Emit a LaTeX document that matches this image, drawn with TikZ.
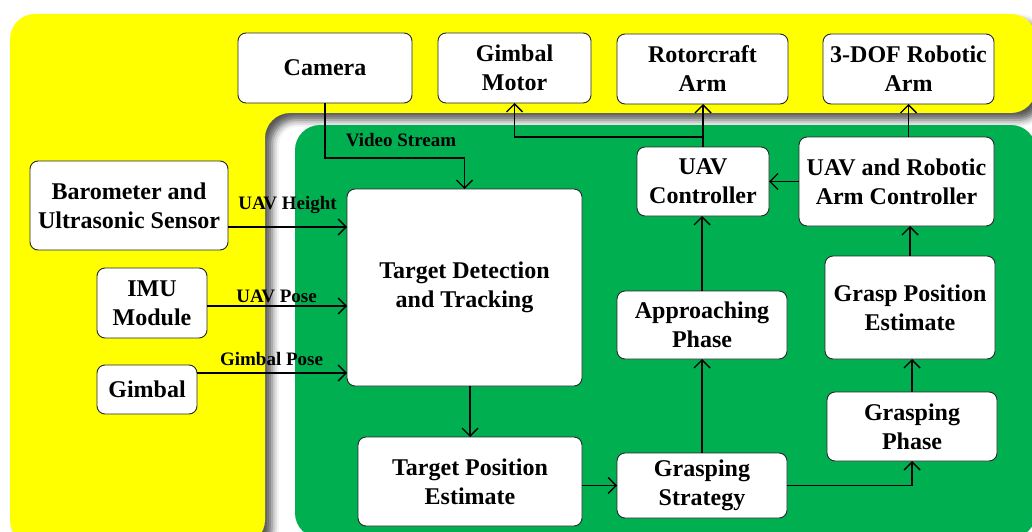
\documentclass[tikz,border=0pt]{standalone}
\usepackage{fontspec}
\setmainfont{Liberation Serif}[BoldFont={Liberation Serif Bold}]
\newfontfamily\tnrbold{Liberation Serif Bold}
\usetikzlibrary{arrows.meta,calc,shadows.blur}
\definecolor{bandyellow}{HTML}{FFFF00}
\definecolor{coregreen}{HTML}{00B050}

\begin{document}
\begin{tikzpicture}[x=1pt,y=-1pt,
  box/.style={draw=black!85, line width=0.9pt, fill=white, rounded corners=8pt,
    align=center, inner sep=0pt, outer sep=0pt,
    font=\tnrbold\fontsize{24}{29}\selectfont},
  lab/.style={font=\tnrbold\fontsize{19}{22}\selectfont, inner sep=0pt},
  arr/.style={line width=1.4pt, -{Straight Barb[length=8pt,width=16pt,line width=1.4pt]}}]
\useasboundingbox (0,0) rectangle (1032,532);
\clip (0,0) rectangle (1032,532);

% hardware region (yellow) and processing region (green)
\fill[bandyellow, rounded corners=25pt,
  blur shadow={shadow xshift=7pt, shadow yshift=-7pt, shadow blur radius=7pt, shadow opacity=65}]
  (10,545) -- (10,14) -- (1036,14) -- (1036,113) -- (265,113) -- (265,545) -- cycle;
\fill[coregreen, rounded corners=25pt] (295,125) rectangle (1036,538);

% hardware
\node[box, minimum width=174pt, minimum height=70pt] (cam)  at (325,68)     {Camera};
\node[box, minimum width=153pt, minimum height=70pt] (gmot) at (514.5,68)   {Gimbal\\Motor};
\node[box, minimum width=171pt, minimum height=70pt] (rot)  at (702.5,69)   {Rotorcraft\\Arm};
\node[box, minimum width=171pt, minimum height=70pt] (dof)  at (908.5,69)   {3-DOF Robotic\\Arm};
\node[box, minimum width=198pt, minimum height=89pt] (baro) at (129,205.5)  {Barometer and\\Ultrasonic Sensor};
\node[box, minimum width=110pt, minimum height=70pt] (imu)  at (152,303)    {IMU\\Module};
\node[box, minimum width=100pt, minimum height=49pt] (gim)  at (147,389.5)  {Gimbal};

% processing
\node[box, minimum width=235pt, minimum height=197pt] (tdt)  at (464.5,287.5) {Target Detection\\and Tracking};
\node[box, minimum width=224pt, minimum height=89pt]  (tpe)  at (470,481.5)   {Target Position\\Estimate};
\node[box, minimum width=170pt, minimum height=65pt]  (gs)   at (702,485.5)   {Grasping\\Strategy};
\node[box, minimum width=170pt, minimum height=68pt]  (ap)   at (702,325)     {Approaching\\Phase};
\node[box, minimum width=132pt, minimum height=69pt]  (uavc) at (703,181.5)   {UAV\\Controller};
\node[box, minimum width=195pt, minimum height=89pt]  (uarc) at (896.5,181.5) {UAV and Robotic\\Arm Controller};
\node[box, minimum width=170pt, minimum height=103pt] (gpe)  at (910,307.5)   {Grasp Position\\Estimate};
\node[box, minimum width=170pt, minimum height=69pt]  (gp)   at (912,426.5)   {Grasping\\Phase};

% sensor inputs
\draw[arr] (cam.south) -- ++(0,55) -| (tdt.north);
\node[lab, anchor=base] at (401,146) {Video Stream};
\draw[arr] ($(baro.east)+(0,21.5)$) coordinate (hgt) -- (hgt -| tdt.west);
\node[lab, anchor=base] at (287.5,209) {UAV Height};
\draw[arr] ($(imu.east)+(0,3)$) coordinate (pose) -- (pose -| tdt.west);
\node[lab, anchor=base] at (276.5,302) {UAV Pose};
\draw[arr] ($(gim.east)+(0,-16.5)$) coordinate (gpose) -- (gpose -| tdt.west);
\node[lab, anchor=base] at (271.5,365) {Gimbal Pose};

% processing chain
\draw[arr] (tpe.north |- tdt.south) -- (tpe.north);
\draw[arr] (tpe.east |- gs.west) -- (gs.west);
\draw[arr] (gs.north) -- (gs.north |- ap.south);
\draw[arr] (ap.north) -- (ap.north |- uavc.south);
\draw[arr] (gs.east) -| (gp.south);
\draw[arr] (gp.north) -- (gp.north |- gpe.south);
\draw[arr] (gpe.north) -- (gpe.north |- uarc.south);
\draw[arr] (uarc.west) -- (uavc.east);

% actuator outputs
\coordinate (split) at ($(uavc.north)+(0,-10)$);
\draw[arr] (uavc.north) -- (uavc.north |- rot.south);
\draw[arr] (split) -| (gmot.south);
\draw[arr] (dof.south |- uarc.north) -- (dof.south);
\end{tikzpicture}
\end{document}
